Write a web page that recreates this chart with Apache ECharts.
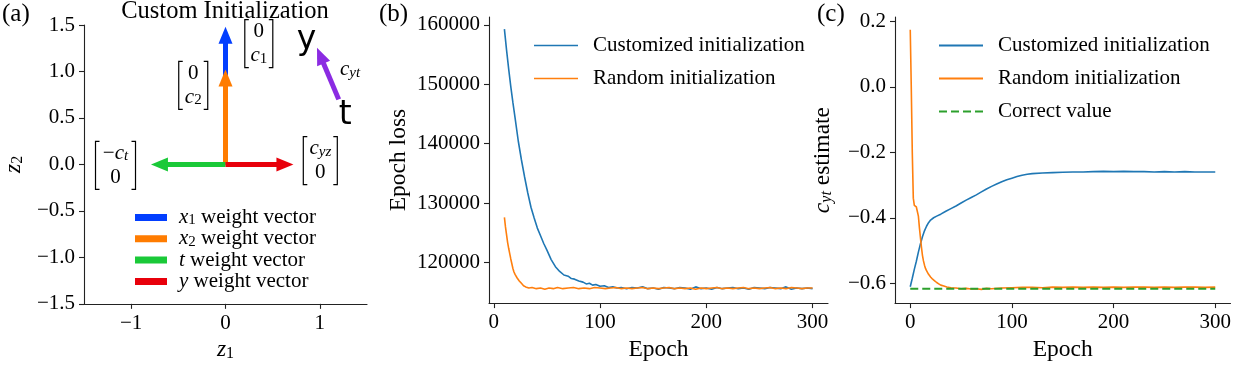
<!DOCTYPE html>
<html>
<head>
<meta charset="utf-8">
<script src="https://cdn.jsdelivr.net/npm/echarts@6/dist/echarts.min.js"></script>
<style>
  html, body { margin: 0; padding: 0; background: #fff; }
  #main { width: 1234px; height: 367px; }
</style>
</head>
<body>
<div id="main"></div>
<script>
// ---- (a) weight vectors ----
var vecKeys = ['x1', 'x2', 't', 'y'];
var vecLabels = ['{i|x}{s|1} weight vector', '{i|x}{s|2} weight vector', '{i|t} weight vector', '{i|y} weight vector'];
var vecEnds = [[0, 1.39], [0, 0.93], [-0.70, 0], [0.63, 0]];
var cytArrow = [[1.20, 0.70], [1.005, 1.17]];
var matrixPos = [[0.353, 1.30], [-0.342, 0.85], [-1.166, -0.01], [1.005, 0.04]];
var matrixTop = ['0', '0', '\u2212{i|c}{si|t}', '{i|c}{si|yz}'];
var matrixBottom = ['{i|c}{s|1}', '{i|c}{s|2}', '0', '0'];
var notePos = [[0.86, 1.33], [1.27, 0.53], [1.32, 1.02]];
var noteText = ['y', 't', '{i|c}{si|yt}'];
var vecTicksX = [-1, 0, 1];
var vecTicksY = [-1.5, -1, -0.5, 0, 0.5, 1, 1.5];

// ---- (b) epoch loss ----
var epochTicks = [0, 100, 200, 300];
var lossTicks = [120000, 130000, 140000, 150000, 160000];
var lossCustom = [
  [10,159300],[12,155800],[14,152600],[16,149600],[18,146900],[20,144400],[23,140500],[26,137300],
  [29,134400],[32,131700],[35,129300],[38,127500],[41,125800],[44,124500],[47,123200],[50,122100],
  [54,120500],[58,119300],[62,118500],[66,117900],[70,117700],[73,117300],[76,117200],[80,116900],
  [84,116700],[87,116400],[90,116500],[93,116200],[96,116300],[100,116000],[104,116100],[108,115800],
  [112,115900],[116,115700],[120,115800],[125,115600],[130,115800],[135,115700],[140,115900],[145,115600],
  [150,115700],[155,115500],[160,115800],[165,115700],[170,115600],[175,115800],[180,115700],[185,115500],
  [190,115900],[195,115600],[200,115700],[205,115500],[210,115800],[215,115600],[220,115700],[225,115800],
  [230,115600],[235,115700],[240,115500],[245,115800],[250,115700],[255,115600],[260,115800],[265,115700],
  [270,115600],[275,115900],[280,115500],[285,115700],[290,115600],[295,115700],[300,115600]
];
var lossRandom = [
  [10,127600],[11,126000],[12,124700],[13,123400],[14,122400],[15,121500],[16,120600],[17,119800],
  [18,119000],[19,118400],[20,118000],[22,117400],[24,116900],[26,116500],[28,116100],[30,115900],
  [33,115700],[36,115800],[40,115600],[44,115700],[48,115500],[52,115700],[56,115600],[60,115800],
  [65,115600],[70,115700],[75,115800],[80,115600],[85,115700],[90,115600],[95,115800],[100,115700],
  [105,115600],[110,115700],[115,115800],[120,115600],[125,115700],[130,115600],[135,115700],[140,115800],
  [145,115600],[150,115700],[155,115600],[160,115700],[165,115800],[170,115600],[175,115700],[180,115600],
  [185,115700],[190,115500],[195,115700],[200,115600],[205,115700],[210,115800],[215,115600],[220,115700],
  [225,115600],[230,115700],[235,115800],[240,115600],[245,115700],[250,115600],[255,115700],[260,115800],
  [265,115600],[270,115700],[275,115600],[280,115800],[285,115700],[290,115600],[295,115700],[300,115700]
];

// ---- (c) c_yt estimate ----
var cytTicks = [-0.6, -0.4, -0.2, 0, 0.2];
var cytCustom = [
  [0,-0.611],[2,-0.585],[4,-0.558],[6,-0.533],[8,-0.505],[10,-0.480],[12,-0.458],[14,-0.440],
  [16,-0.426],[18,-0.415],[20,-0.407],[23,-0.400],[26,-0.395],[30,-0.389],[35,-0.380],[40,-0.372],
  [45,-0.364],[50,-0.355],[55,-0.346],[60,-0.338],[65,-0.330],[70,-0.321],[75,-0.312],[80,-0.304],
  [85,-0.297],[90,-0.290],[95,-0.284],[100,-0.279],[105,-0.274],[110,-0.270],[115,-0.267],[120,-0.265],
  [130,-0.263],[140,-0.262],[150,-0.261],[160,-0.260],[170,-0.260],[180,-0.259],[190,-0.258],[200,-0.259],
  [210,-0.258],[220,-0.259],[230,-0.259],[240,-0.260],[250,-0.259],[260,-0.260],[270,-0.259],[280,-0.260],
  [290,-0.260],[300,-0.260]
];
var cytRandom = [
  [0,0.175],[1,0.0],[2,-0.2],[3,-0.34],[4,-0.362],[5,-0.358],[6,-0.367],[7,-0.372],[8,-0.395],
  [9,-0.43],[10,-0.46],[11,-0.49],[12,-0.515],[13,-0.532],[14,-0.545],[15,-0.555],[16,-0.562],
  [18,-0.573],[20,-0.581],[22,-0.588],[24,-0.593],[26,-0.598],[28,-0.602],[30,-0.606],[33,-0.609],
  [36,-0.612],[40,-0.614],[45,-0.615],[50,-0.617],[55,-0.616],[60,-0.618],[65,-0.617],[70,-0.619],
  [75,-0.616],[80,-0.617],[90,-0.615],[100,-0.614],[110,-0.613],[120,-0.613],[130,-0.614],[140,-0.612],
  [150,-0.613],[160,-0.612],[170,-0.613],[180,-0.612],[190,-0.613],[200,-0.612],[210,-0.613],[220,-0.612],
  [230,-0.612],[240,-0.613],[250,-0.612],[260,-0.613],[270,-0.612],[280,-0.612],[290,-0.613],[300,-0.612]
];
var cytCorrect = [[0,-0.617],[300,-0.617]];

(function() {
  var SERIF = "'Liberation Serif', 'DejaVu Serif', serif";
  var SANS = "'DejaVu Sans', sans-serif";
  var ink = '#000';
  var spine = '#222';
  var vecColors = ['#023eff', '#ff7c00', '#1ac938', '#e8000b'];
  var purple = '#8b2be2';
  var solidIcon = 'path://M0,0H44V1.6H0Z';
  var dashIcon = 'path://M0,0H8V2H0Z M12,0H20V2H12Z M24,0H32V2H24Z M36,0H44V2H36Z';

  function mathRich(size) {
    var sub = Math.round(size * 0.7);
    return {
      i: { fontStyle: 'italic', fontSize: size, fontFamily: SERIF, color: ink, lineHeight: size },
      s: { fontSize: sub, fontFamily: SERIF, color: ink, lineHeight: 5, verticalAlign: 'bottom' },
      si: { fontStyle: 'italic', fontSize: sub, fontFamily: SERIF, color: ink, lineHeight: 5, verticalAlign: 'bottom' }
    };
  }
  function num(d) {
    return function(v) { return (v < 0 ? '\u2212' : '') + Math.abs(v).toFixed(d); };
  }
  function axis(idx, min, max, ticks, fmt, extra) {
    var a = {
      type: 'value', gridIndex: idx, min: min, max: max,
      axisLine: { show: true, onZero: false, lineStyle: { color: spine, width: 1.1 } },
      axisTick: { show: true, length: 5, customValues: ticks, lineStyle: { color: spine, width: 1.1 } },
      axisLabel: { customValues: ticks, formatter: fmt, color: ink, fontSize: 21, fontFamily: SERIF, margin: 9 },
      splitLine: { show: false },
      nameLocation: 'middle',
      nameTextStyle: { color: ink, fontSize: 23.5, fontFamily: SERIF, rich: mathRich(23.5) }
    };
    for (var k in extra) a[k] = extra[k];
    return a;
  }

  var chart = echarts.init(document.getElementById('main'), null, { renderer: 'canvas' });

  var series = [];
  vecKeys.forEach(function(k, i) {
    series.push({
      name: k, type: 'lines', coordinateSystem: 'cartesian2d', xAxisIndex: 0, yAxisIndex: 0,
      symbol: ['none', 'triangle'], symbolSize: [[14, 17], [14, 17]],
      lineStyle: { color: vecColors[i], width: 5, opacity: 1, curveness: 0 },
      silent: true,
      data: [{ coords: [[0, 0], vecEnds[i]] }]
    });
  });
  series.push({
    name: 'cyt', type: 'lines', coordinateSystem: 'cartesian2d', xAxisIndex: 0, yAxisIndex: 0,
    symbol: ['none', 'triangle'], symbolSize: [[14, 17], [14, 17]],
    lineStyle: { color: purple, width: 5, opacity: 1, curveness: 0 },
    silent: true,
    data: [{ coords: cytArrow }]
  });
  series.push({
    type: 'custom', xAxisIndex: 0, yAxisIndex: 0, silent: true, data: matrixPos,
    renderItem: function(params, api) {
      var i = params.dataIndex;
      var p = api.coord([api.value(0), api.value(1)]);
      var hw = [14, 14.5, 20, 17][i], hh = 24, s = 4;
      function txt(t, dy) {
        return { type: 'text', x: p[0], y: p[1] + dy, style: {
          text: t, align: 'center', verticalAlign: 'middle', fontSize: 21, fontFamily: SERIF,
          fill: ink, lineHeight: 21, rich: mathRich(21) } };
      }
      function br(sx) {
        var x = p[0] + sx * hw;
        return { type: 'polyline', shape: { points: [[x - sx * s, p[1] - hh], [x, p[1] - hh], [x, p[1] + hh], [x - sx * s, p[1] + hh]] },
          style: { stroke: ink, fill: null, lineWidth: 1.2 } };
      }
      return { type: 'group', children: [txt(matrixTop[i], -12), txt(matrixBottom[i], 12), br(-1), br(1)] };
    }
  });
  series.push({
    type: 'scatter', xAxisIndex: 0, yAxisIndex: 0, silent: true, symbolSize: 0,
    itemStyle: { opacity: 1 },
    data: notePos,
    label: {
      show: true, position: 'inside', color: ink, textBorderWidth: 0, opacity: 1,
      formatter: function(p) { return noteText[p.dataIndex]; },
      fontSize: 33, fontFamily: SANS,
      rich: mathRich(21)
    }
  });

  function ln(name, g, data, color, extra) {
    var s = { name: name, type: 'line', symbol: 'none', showSymbol: false, silent: true,
      xAxisIndex: g, yAxisIndex: g, data: data,
      lineStyle: { color: color, width: 1.6 }, itemStyle: { color: color } };
    for (var e in extra) s.lineStyle[e] = extra[e];
    return s;
  }
  series.push(ln('Customized initialization', 1, lossCustom, '#1f77b4'));
  series.push(ln('Random initialization', 1, lossRandom, '#ff7f0e'));
  series.push(ln('Customized initialization', 2, cytCustom, '#1f77b4'));
  series.push(ln('Random initialization', 2, cytRandom, '#ff7f0e'));
  series.push(ln('Correct value', 2, cytCorrect, '#2ca02c', { type: [8, 4], width: 2 }));

  var curveLegend = { color: ink, fontSize: 21, fontFamily: SERIF, lineHeight: 20, padding: [0, 0, 0, 10] };

  chart.setOption({
    animation: false,
    backgroundColor: '#fff',
    grid: [
      { left: 84, top: 25, width: 283, height: 282 },
      { left: 489, top: 17, width: 339, height: 289 },
      { left: 895, top: 17, width: 338, height: 289 }
    ],
    xAxis: [
      axis(0, -1.5, 1.5, vecTicksX, num(0), { name: '{i|z}{s|1}', nameGap: 30 }),
      axis(1, -4.5, 314.5, epochTicks, num(0), { name: 'Epoch', nameGap: 30 }),
      axis(2, -15, 315, epochTicks, num(0), { name: 'Epoch', nameGap: 30 })
    ],
    yAxis: [
      axis(0, -1.5, 1.5, vecTicksY, num(1), { name: '{i|z}{s|2}', nameGap: 58 }),
      axis(1, 113170, 161330, lossTicks, function(v) { return String(v); }, { name: 'Epoch loss', nameGap: 78 }),
      axis(2, -0.661, 0.214, cytTicks, num(1), { name: '{i|c}{si|yt} estimate', nameGap: 60 })
    ],
    legend: [
      {
        data: vecKeys, orient: 'vertical', left: 135, top: 207, icon: 'rect', padding: 0,
        itemWidth: 30, itemHeight: 5, itemGap: 0.3, selectedMode: false,
        formatter: function(n) { return vecLabels[vecKeys.indexOf(n)]; },
        textStyle: { color: ink, fontSize: 21, fontFamily: SERIF, lineHeight: 20, padding: [0, 0, 0, 8], rich: mathRich(21) }
      },
      {
        data: [
          { name: 'Customized initialization', icon: solidIcon },
          { name: 'Random initialization', icon: solidIcon }
        ],
        orient: 'vertical', left: 534, top: 35, padding: 0, symbolKeepAspect: false,
        itemWidth: 44, itemHeight: 1.6, itemGap: 12, selectedMode: false, textStyle: curveLegend
      },
      {
        data: [
          { name: 'Customized initialization', icon: solidIcon },
          { name: 'Random initialization', icon: solidIcon },
          { name: 'Correct value', icon: dashIcon }
        ],
        orient: 'vertical', left: 939, top: 35, padding: 0, symbolKeepAspect: false,
        itemWidth: 44, itemHeight: 2, itemGap: 12, selectedMode: false, textStyle: curveLegend
      }
    ],
    graphic: [
      { type: 'text', x: 225, y: 12, style: { text: 'Custom Initialization', fontSize: 24.5, fontFamily: SERIF, fill: ink, align: 'center', verticalAlign: 'middle' } },
      { type: 'text', x: 2, y: 14, style: { text: '(a)', fontSize: 25, fontFamily: SERIF, fill: ink, verticalAlign: 'middle' } },
      { type: 'text', x: 379, y: 14, style: { text: '(b)', fontSize: 25, fontFamily: SERIF, fill: ink, verticalAlign: 'middle' } },
      { type: 'text', x: 817, y: 14, style: { text: '(c)', fontSize: 25, fontFamily: SERIF, fill: ink, verticalAlign: 'middle' } }
    ],
    series: series
  });
  window.addEventListener('resize', function() { chart.resize(); });
})();
</script>
</body>
</html>
